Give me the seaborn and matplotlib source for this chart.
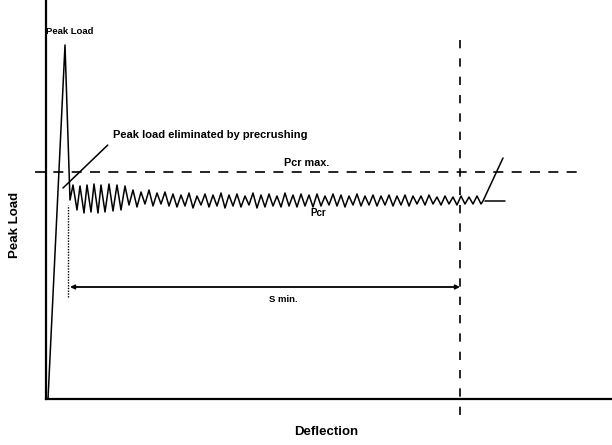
import matplotlib
matplotlib.use("Agg")
import matplotlib.pyplot as plt
import seaborn as sns
import pandas as pd

# ---- data (deflection, load) ----
curve_deflection = [2, 19, 24, 27, 31, 34, 38, 41, 45, 48, 52, 55, 59, 63, 67, 71, 75, 79, 83,
                    87, 91, 95, 99, 103, 107, 111, 115, 119, 123,
                    127, 131, 135, 139, 143, 147, 151, 155, 159, 163, 167, 171, 175, 179, 183,
                    187, 191, 195, 199, 203, 207, 211, 215, 219, 223, 227, 231, 235, 239, 243,
                    247, 251, 255, 259, 263, 267, 271, 275, 279, 283, 287, 291, 295, 299, 303,
                    307, 311, 315, 319, 323, 327, 331, 335, 339, 343, 347, 351, 355, 359, 363,
                    367, 371, 375, 379, 383, 387, 391, 395, 399, 403, 407, 411, 415, 419, 423,
                    427, 431, 435, 437, 457]
curve_load = [0, 354, 199, 214, 189, 213, 186, 214, 187, 215, 186, 214, 187, 215, 188, 214, 189,
              213, 194, 209, 192, 207, 195, 209, 193, 206, 195, 207, 193,
              205, 192, 204, 193, 206, 191, 203, 194, 205, 192, 204, 193, 206, 191, 204,
              193, 205, 192, 203, 194, 206, 191, 204, 192, 205, 193, 203, 192, 206, 193,
              204, 192, 205, 193, 204, 192, 205, 193, 203, 194, 205, 193, 204, 192, 203,
              194, 205, 193, 203, 194, 204, 193, 203, 194, 204, 193, 203, 194, 204, 193,
              203, 195, 203, 194, 204, 195, 202, 194, 203, 195, 202, 194, 203, 195, 202,
              195, 203, 195, 198, 241]

plateau_deflection = [439, 459]
plateau_load = [198, 198]

pcr_max_load = 227
s_min_start = 24
s_min_end = 414
s_min_load = 112
precrush_mark_x = 22
precrush_mark_load = [102, 194]

sns.set_style("white")
plt.rcParams["font.family"] = ["Liberation Sans", "DejaVu Sans"]

fig = plt.figure(figsize=(6.12, 4.45), dpi=100)
ax = fig.add_axes([46 / 612, 46 / 445, 566 / 612, 399 / 445])

df = pd.DataFrame({"Deflection": curve_deflection, "Load": curve_load})
sns.lineplot(data=df, x="Deflection", y="Load", sort=False, estimator=None,
             color="black", linewidth=1.1, ax=ax)
ax.plot(plateau_deflection, plateau_load, color="black", linewidth=1.1)

# Pcr max dashed line
ax.plot([-11, 537], [pcr_max_load, pcr_max_load], color="black", linewidth=1.2,
        linestyle=(0, (6, 5)), clip_on=False)
# S min vertical dashed line
ax.plot([s_min_end, s_min_end], [-16, 369], color="black", linewidth=1.2,
        linestyle=(0, (5, 6)), clip_on=False)
# start marker of S min
ax.plot([precrush_mark_x, precrush_mark_x], precrush_mark_load, color="black",
        linewidth=1.0, linestyle=(0, (1, 1)))
# S min arrow
ax.annotate("", xy=(s_min_start, s_min_load), xytext=(s_min_end, s_min_load),
            arrowprops=dict(arrowstyle="<|-|>", color="black", lw=1.3,
                            mutation_scale=6, shrinkA=0, shrinkB=0))

tkw = dict(fontweight="bold", color="black")
ax.text(24, 367, "Peak Load", ha="center", va="center", fontsize=6.8, **tkw)
ax.annotate("Peak load eliminated by precrushing", xy=(17, 211), xytext=(67, 264),
            ha="left", va="center", fontsize=8, **tkw,
            arrowprops=dict(arrowstyle="-", color="black", lw=1.1,
                            shrinkA=2, shrinkB=0, relpos=(0, 0)))
ax.text(261, 236, "Pcr max.", ha="center", va="center", fontsize=7.8, **tkw)
ax.text(272, 186, "Pcr", ha="center", va="center", fontsize=7, **tkw)
ax.text(237, 99, "S min.", ha="center", va="center", fontsize=6.8, **tkw)

ax.set_xlabel("Deflection", fontsize=9.5, fontweight="bold", color="black")
ax.set_ylabel("Peak Load", fontsize=9.5, fontweight="bold", color="black")
ax.xaxis.set_label_coords((326 - 46) / 566, (399 - 426) / 399)
ax.yaxis.set_label_coords((21 - 46) / 566, (399 - 225) / 399)

ax.set_xlim(0, 566)
ax.set_ylim(0, 399)
ax.set_xticks([])
ax.set_yticks([])
for s in ["top", "right"]:
    ax.spines[s].set_visible(False)
for s in ["left", "bottom"]:
    ax.spines[s].set_color("black")
    ax.spines[s].set_linewidth(1.6)

fig.savefig("out.png", dpi=100, facecolor="white")
